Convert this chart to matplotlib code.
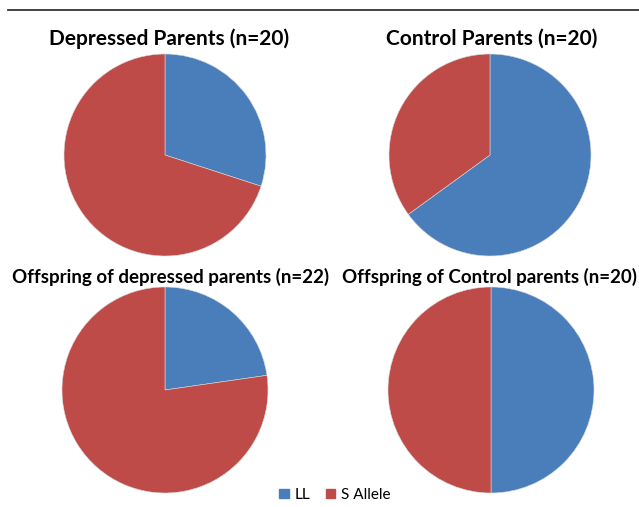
import matplotlib
matplotlib.use("Agg")
import matplotlib.pyplot as plt
from matplotlib.patches import Patch
from matplotlib.lines import Line2D

# Genotype counts (LL vs S allele carriers) per group
groups = [
    "Depressed Parents (n=20)",
    "Control Parents (n=20)",
    "Offspring of depressed parents (n=22)",
    "Offspring of Control parents (n=20)",
]
ll_counts = [6, 13, 5, 10]
s_counts = [14, 7, 17, 10]
categories = ["LL", "S Allele"]

colors = ["#4A7EBB", "#BE4B48"]

W, H = 639, 507
fig = plt.figure(figsize=(W / 100, H / 100), dpi=100)
fig.patch.set_facecolor("white")

# Pie placement in pixels: centre x, centre y (from top), radius
pie_boxes = [(165, 155, 101), (490, 155, 101), (165, 390, 103), (491, 390, 103)]
title_pos = [(169, 39), (492, 39), (171, 277), (490, 277)]
title_sizes = [15, 15, 13.5, 13.5]

for i, (cx, cy, r) in enumerate(pie_boxes):
    ax = fig.add_axes([(cx - r) / W, 1 - (cy + r) / H, 2 * r / W, 2 * r / H])
    ax.pie([ll_counts[i], s_counts[i]], colors=colors, startangle=90,
           counterclock=False, radius=1,
           wedgeprops=dict(edgecolor="#d9d9d9", linewidth=0.4))
    ax.set_xlim(-1, 1)
    ax.set_ylim(-1, 1)
    ax.set_aspect("equal")
    ax.axis("off")
    tx, ty = title_pos[i]
    fig.text(tx / W, 1 - ty / H, groups[i], ha="center", va="center",
             color="black", family=["Lato", "DejaVu Sans"], fontweight="bold",
             fontsize=title_sizes[i])

# Rule across the top of the figure
fig.add_artist(Line2D([8 / W, 1.0], [1 - 10 / H, 1 - 10 / H],
                      color="#333333", linewidth=1.3))

handles = [Patch(facecolor=c, edgecolor=c) for c in colors]
fig.legend(handles, categories, loc="center", bbox_to_anchor=(335 / W, 1 - 495 / H),
           ncol=2, frameon=False, handlelength=0.6, handleheight=0.6,
           handletextpad=0.4, columnspacing=1.0,
           prop=dict(family=["Lato", "DejaVu Sans"], size=11))

fig.savefig("out.png", dpi=100, facecolor="white")
